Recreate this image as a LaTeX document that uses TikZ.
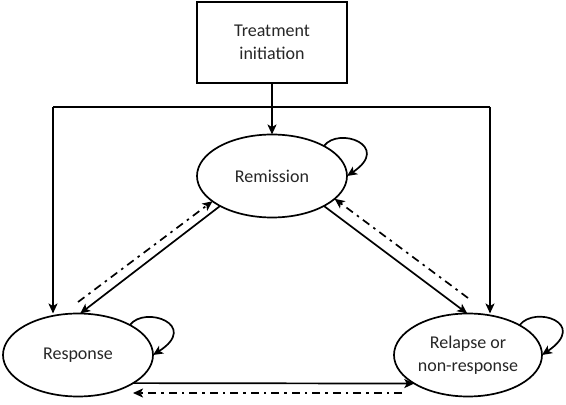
\documentclass[tikz,border=0pt]{standalone}
\usepackage{fontspec}
\setmainfont{Carlito}
\usetikzlibrary{shapes.geometric,arrows.meta,calc}
\begin{document}
\begin{tikzpicture}[x=1pt,y=1pt,
  line width=1.7pt,
  tip/.tip={Stealth[length=10pt,width=9pt,inset=2.5pt]},
  state/.style={ellipse,draw,line width=1.7pt,inner sep=0pt,outer sep=0pt,
    minimum width=150pt,minimum height=83pt,align=center,
    font=\fontsize{18}{23.5}\selectfont,text=black!85},
  startbox/.style={rectangle,draw,line width=1.7pt,inner sep=0pt,outer sep=0pt,
    minimum width=150pt,minimum height=81pt,align=center,
    font=\fontsize{18}{23.5}\selectfont,text=black!85},
  solidarr/.style={-tip},
  dasharr/.style={-tip,dash pattern=on 8pt off 5pt on 2.5pt off 5pt},
  plain/.style={-}
]
\useasboundingbox (0,0) rectangle (566,405);

\node[startbox] (tr) at (272,362.5) {Treatment\\initiation};
\node[state] (rem) at (272,229) {Remission};
\node[state] (resp) at (78,50) {Response};
\node[state,minimum width=148pt] (rel) at (468,50) {Relapse or\\non-response};

\coordinate (hl) at (53,298);
\coordinate (hr) at (490,298);
\coordinate (ddL) at (78,103);
\coordinate (ddR) at (468,107);
\coordinate (bR) at (402,12);
\coordinate (bL) at (133,12);

% treatment links
\draw[plain] (hl) -- (hr);
\draw[solidarr] (tr.south) -- (rem.north);
\draw[solidarr] (hl) -- (hl |- resp.north);
\draw[solidarr] (hr) -- (hr |- rel.north);

% remission <-> response
\draw[solidarr] (rem.210) -- (resp.87);
\draw[dasharr] (ddL) -- (rem.203);

% remission <-> relapse
\draw[solidarr] (rem.330) -- (rel.91);
\draw[dasharr] (ddR) -- (rem.340);

% response <-> relapse
\draw[solidarr] (resp.333) -- (rel.208);
\draw[dasharr] (bR) -- (bL);

% self loops
\draw[solidarr] (rem.30) .. controls +(15,20) and +(45,30) .. (rem.0);
\draw[solidarr] (resp.30) .. controls +(15,20) and +(47,30) .. (resp.0);
\draw[solidarr] (rel.30) .. controls +(15,20) and +(47,32) .. (rel.0);
\end{tikzpicture}
\end{document}
